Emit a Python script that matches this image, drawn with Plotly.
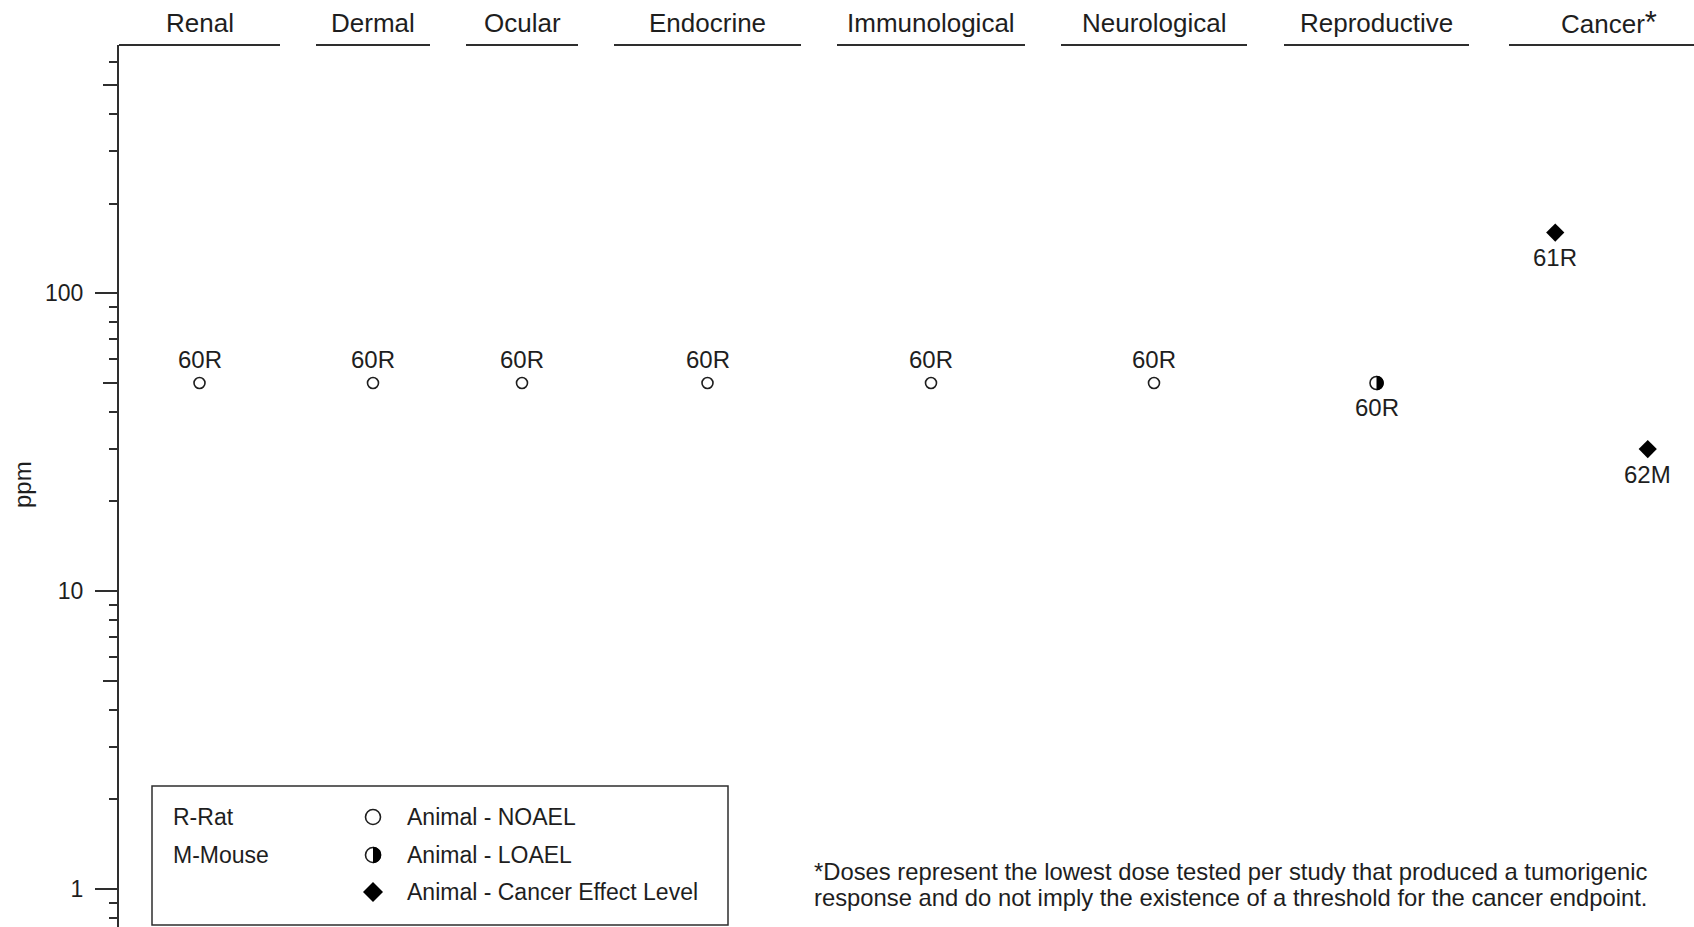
import math
import plotly.graph_objects as go

# ---- data -------------------------------------------------------------
categories = ["Renal", "Dermal", "Ocular", "Endocrine", "Immunological",
              "Neurological", "Reproductive", "Cancer*"]

point_category = ["Renal", "Dermal", "Ocular", "Endocrine", "Immunological",
                  "Neurological", "Reproductive", "Cancer*", "Cancer*"]
point_ppm = [50, 50, 50, 50, 50, 50, 50, 160, 30]
point_effect = ["NOAEL", "NOAEL", "NOAEL", "NOAEL", "NOAEL", "NOAEL",
                "LOAEL", "CEL", "CEL"]
point_label = ["60R", "60R", "60R", "60R", "60R", "60R", "60R", "61R", "62M"]

y_tickvals = [1, 10, 100]
y_ticktext = ["1", "10", "100"]
y_minor = [0.8, 0.9, 2, 3, 4, 6, 7, 8, 9, 20, 30, 40, 60, 70, 80, 90,
           200, 300, 400, 600]
y_mid = [5, 50, 500]

legend_species = ["R-Rat", "M-Mouse"]
legend_effects = ["Animal - NOAEL", "Animal - LOAEL", "Animal - Cancer Effect Level"]
footnote = ["*Doses represent the lowest dose tested per study that produced a tumorigenic",
            "response and do not imply the existence of a threshold for the cancer endpoint."]

# ---- page geometry ----------------------------------------------------
W, H = 1694, 927
ML, MT = 119, 45
PW, PH = W - ML, H - MT
Y_RANGE = [-0.128, 2.834]

# endpoint column spans along the (hidden) x axis
col_left = [0, 197, 347, 495, 718, 942, 1165, 1390]
col_right = [161, 311, 459, 682, 906, 1128, 1350, 1575]
# where each point sits inside its column (0 = left edge, 1 = right edge)
point_slot = [0.5, 0.5, 0.5, 0.5, 0.5, 0.5, 0.5, 0.25, 0.75]

INK = "#1e1e1e"
LINE = "#2e2e2e"
FONT = "Liberation Sans, Arial, sans-serif"


def px_x(px):
    return (px - ML) / PW


def px_y(py):
    return (H - py) / PH


col_index = {c: i for i, c in enumerate(categories)}
point_x = []
for cat, slot in zip(point_category, point_slot):
    i = col_index[cat]
    point_x.append(col_left[i] + slot * (col_right[i] - col_left[i]))

marker_style = {
    "NOAEL": dict(symbol="circle-open", size=11, color=INK, line=dict(width=1.6, color=INK)),
    "LOAEL": dict(symbol="circle", size=13, color="white", line=dict(width=1.6, color=INK)),
    "CEL": dict(symbol="diamond", size=14, color="black", line=dict(width=0)),
}

fig = go.Figure()
for eff in ["NOAEL", "LOAEL", "CEL"]:
    xs = [x for x, e in zip(point_x, point_effect) if e == eff]
    ys = [v for v, e in zip(point_ppm, point_effect) if e == eff]
    fig.add_trace(go.Scatter(x=xs, y=ys, mode="markers", marker=marker_style[eff],
                             showlegend=False, hoverinfo="skip", cliponaxis=False))

# carrier trace for the overlay axis holding the half-decade ticks
fig.add_trace(go.Scatter(x=[0], y=[1], yaxis="y2", mode="markers",
                         marker=dict(opacity=0), showlegend=False, hoverinfo="skip"))

K = 0.5523


def half_disc(r):
    # right half of a disc, centred on the anchor, in pixels
    return (f"M0,{-r} C{K*r},{-r} {r},{-K*r} {r},0 "
            f"C{r},{K*r} {K*r},{r} 0,{r} Z")


def diamond(w, h):
    return f"M0,{h} L{w},0 L0,{-h} L{-w},0 Z"


shapes = []
annotations = []

# dark right half on the LOAEL markers
for x, v, e in zip(point_x, point_ppm, point_effect):
    if e == "LOAEL":
        shapes.append(dict(type="path", xref="x", yref="y", xsizemode="pixel",
                           ysizemode="pixel", xanchor=x, yanchor=v,
                           path=half_disc(7.3), fillcolor="black",
                           line=dict(width=0), layer="above"))

# study labels: above NOAEL points, below the others
for x, v, e, lab in zip(point_x, point_ppm, point_effect, point_label):
    annotations.append(dict(x=x, y=math.log10(v), xref="x", yref="y", text=lab,
                            showarrow=False, xanchor="center", yanchor="middle",
                            yshift=23 if e == "NOAEL" else -25,
                            font=dict(family=FONT, size=24, color=INK)))

# column headers with their rule lines
for i, cat in enumerate(categories):
    shapes.append(dict(type="line", xref="x", yref="paper", x0=col_left[i],
                       x1=col_right[i], y0=1, y1=1, line=dict(color=LINE, width=2)))
    cx = (col_left[i] + col_right[i]) / 2
    text = cat
    shift = 0
    if cat.endswith("*"):
        text = cat[:-1] + "<span style='font-size:31px'>*</span>"
        shift = 7
    annotations.append(dict(x=cx, y=px_y(23), xref="x", yref="paper", text=text,
                            showarrow=False, xanchor="center", yanchor="middle",
                            xshift=shift,
                            font=dict(family=FONT, size=26, color=INK)))

# y axis title
annotations.append(dict(x=px_x(22), y=px_y(485), xref="paper", yref="paper",
                        text="ppm", textangle=-90, showarrow=False,
                        xanchor="center", yanchor="middle",
                        font=dict(family=FONT, size=24, color=INK)))

# key box
shapes.append(dict(type="rect", xref="paper", yref="paper",
                   x0=px_x(152), x1=px_x(728), y0=px_y(925), y1=px_y(786),
                   line=dict(color=LINE, width=1.5), fillcolor="white", layer="above"))
rows = [817, 855, 892]
for t, ry in zip(legend_species, rows):
    annotations.append(dict(x=px_x(171), y=px_y(ry), xref="paper", yref="paper",
                            text=t, showarrow=False, xanchor="left", yanchor="middle",
                            font=dict(family=FONT, size=23, color=INK)))
for t, ry in zip(legend_effects, rows):
    annotations.append(dict(x=px_x(405), y=px_y(ry), xref="paper", yref="paper",
                            text=t, showarrow=False, xanchor="left", yanchor="middle",
                            font=dict(family=FONT, size=23, color=INK)))
sym_x = px_x(373)
shapes.append(dict(type="circle", xref="paper", yref="paper", xsizemode="pixel",
                   ysizemode="pixel", xanchor=sym_x, yanchor=px_y(rows[0]),
                   x0=-7.5, x1=7.5, y0=-7.5, y1=7.5,
                   line=dict(color=INK, width=1.6), fillcolor="white", layer="above"))
shapes.append(dict(type="circle", xref="paper", yref="paper", xsizemode="pixel",
                   ysizemode="pixel", xanchor=sym_x, yanchor=px_y(rows[1]),
                   x0=-7.5, x1=7.5, y0=-7.5, y1=7.5,
                   line=dict(color=INK, width=1.6), fillcolor="white", layer="above"))
shapes.append(dict(type="path", xref="paper", yref="paper", xsizemode="pixel",
                   ysizemode="pixel", xanchor=sym_x, yanchor=px_y(rows[1]),
                   path=half_disc(8.2), fillcolor="black", line=dict(width=0),
                   layer="above"))
shapes.append(dict(type="path", xref="paper", yref="paper", xsizemode="pixel",
                   ysizemode="pixel", xanchor=sym_x, yanchor=px_y(rows[2]),
                   path=diamond(10, 10), fillcolor="black", line=dict(width=0),
                   layer="above"))

# footnote
for t, ry in zip(footnote, [871, 897]):
    annotations.append(dict(x=px_x(812), y=px_y(ry), xref="paper", yref="paper",
                            text=t, showarrow=False, xanchor="left", yanchor="middle",
                            font=dict(family=FONT, size=23.8, color=INK)))

fig.update_layout(
    width=W, height=H, autosize=False,
    margin=dict(l=ML, r=0, t=MT, b=0, pad=0),
    paper_bgcolor="white", plot_bgcolor="white",
    showlegend=False,
    xaxis=dict(range=[0, PW], visible=False, fixedrange=True),
    yaxis=dict(type="log", range=Y_RANGE, showgrid=False, zeroline=False,
               showline=True, linecolor=LINE, linewidth=2,
               ticks="outside", ticklen=22, tickwidth=2, tickcolor=LINE,
               tickmode="array", tickvals=y_tickvals, ticktext=y_ticktext,
               ticklabelstandoff=7,
               tickfont=dict(family=FONT, size=23, color=INK),
               minor=dict(ticks="outside", ticklen=8, tickwidth=2, tickcolor=LINE,
                          tickmode="array", tickvals=y_minor, showgrid=False)),
    yaxis2=dict(type="log", range=Y_RANGE, overlaying="y", side="left", anchor="x",
                showgrid=False, zeroline=False, showline=False,
                ticks="outside", ticklen=15, tickwidth=2, tickcolor=LINE,
                tickmode="array", tickvals=y_mid, showticklabels=False),
    shapes=shapes,
    annotations=annotations,
)

fig.write_html("out.html")
